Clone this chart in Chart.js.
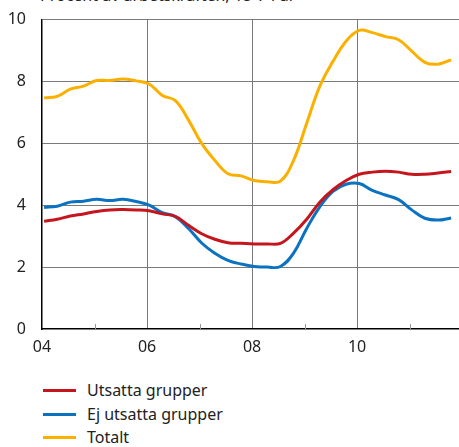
<!DOCTYPE html>
<html>
<head>
<meta charset="utf-8">
<script src="https://cdn.jsdelivr.net/npm/chart.js@4/dist/chart.umd.min.js"></script>
<style>
  body { margin: 0; width: 459px; height: 447px; overflow: hidden; background: #fff;
         font-family: "Noto Sans", sans-serif; color: #222; position: relative; }
  #title { position: absolute; left: 40px; top: -16px; font-size: 16px; white-space: nowrap; }
  #wrap { position: absolute; left: 0; top: -6px; width: 459px; height: 378px; }
  #legend { position: absolute; left: 43px; top: 379px; font-size: 16px; }
  .item { height: 23.5px; line-height: 23.5px; display: flex; align-items: center; }
  .swatch { width: 33px; height: 3px; margin-right: 11px; }
</style>
</head>
<body>
<div id="title">Procent av arbetskraften, 15-74 år</div>
<div id="wrap"><canvas id="chart"></canvas></div>
<div id="legend"></div>
<script>
// kvartal, 2004K1 - 2011K4
const quarters = [
  "2004K1","2004K2","2004K3","2004K4","2005K1","2005K2","2005K3","2005K4",
  "2006K1","2006K2","2006K3","2006K4","2007K1","2007K2","2007K3","2007K4",
  "2008K1","2008K2","2008K3","2008K4","2009K1","2009K2","2009K3","2009K4",
  "2010K1","2010K2","2010K3","2010K4","2011K1","2011K2","2011K3","2011K4"
];
const utsatta = [
  3.48, 3.55, 3.65, 3.72, 3.80, 3.85, 3.86, 3.85,
  3.82, 3.72, 3.64, 3.35, 3.08, 2.90, 2.79, 2.77,
  2.75, 2.75, 2.77, 3.10, 3.55, 4.10, 4.50, 4.80,
  5.00, 5.07, 5.10, 5.07, 5.00, 5.00, 5.04, 5.09
];
const ejUtsatta = [
  3.93, 3.97, 4.10, 4.13, 4.19, 4.15, 4.19, 4.12,
  4.00, 3.76, 3.63, 3.25, 2.78, 2.45, 2.22, 2.10,
  2.02, 2.00, 2.02, 2.45, 3.25, 3.95, 4.45, 4.68,
  4.70, 4.48, 4.33, 4.18, 3.85, 3.58, 3.52, 3.59
];
const totalt = [
  7.47, 7.52, 7.75, 7.85, 8.03, 8.03, 8.08, 8.02,
  7.92, 7.55, 7.38, 6.75, 6.00, 5.45, 5.02, 4.95,
  4.80, 4.76, 4.78, 5.45, 6.65, 7.85, 8.65, 9.30,
  9.65, 9.58, 9.45, 9.35, 8.98, 8.62, 8.56, 8.70
];
const yearTicks = [2004, 2005, 2006, 2007, 2008, 2009, 2010, 2011];
const labelYears = [2004, 2006, 2008, 2010];

const series = [
  { label: "Utsatta grupper", data: utsatta, color: "#c4161c" },
  { label: "Ej utsatta grupper", data: ejUtsatta, color: "#0a72c0" },
  { label: "Totalt", data: totalt, color: "#fbb000" }
];

// kvartal -> decimalår (mitt i kvartalet ungefär)
function toYear(q) {
  return +q.slice(0, 4) + (+q.slice(5) - 1) * 0.25 + 0.04;
}

const minorTicks = {
  id: "minorTicks",
  afterDatasetsDraw(chart) {
    const ctx = chart.ctx, x = chart.scales.x, bottom = chart.chartArea.bottom;
    ctx.save();
    ctx.strokeStyle = "#999";
    ctx.lineWidth = 1;
    yearTicks.filter(y => labelYears.indexOf(y) < 0).forEach(y => {
      const px = Math.round(x.getPixelForValue(y)) + 0.5;
      ctx.beginPath();
      ctx.moveTo(px, bottom);
      ctx.lineTo(px, bottom - 5);
      ctx.stroke();
    });
    ctx.restore();
  }
};

new Chart(document.getElementById("chart"), {
  type: "line",
  data: {
    datasets: series.map(s => ({
      label: s.label,
      data: quarters.map((q, i) => ({ x: toYear(q), y: s.data[i] })),
      borderColor: s.color,
      borderWidth: 3,
      pointRadius: 0,
      tension: 0.4,
      fill: false
    }))
  },
  options: {
    responsive: true,
    maintainAspectRatio: false,
    animation: false,
    layout: { padding: { top: 10, left: 0, right: 0, bottom: 0 } },
    plugins: { legend: { display: false }, tooltip: { enabled: false } },
    scales: {
      x: {
        type: "linear",
        min: 2004,
        max: 2011.94,
        afterBuildTicks: s => { s.ticks = yearTicks.map(v => ({ value: v })); },
        afterFit: s => { s.height = 43; },
        grid: {
          color: c => (labelYears.indexOf(c.tick && c.tick.value) >= 0 && c.tick.value !== 2004) ? "#7a7a7a" : "rgba(0,0,0,0)",
          drawTicks: false
        },
        border: { color: "#000", width: 1.5 },
        ticks: {
          autoSkip: false,
          maxRotation: 0,
          padding: 9,
          color: "#222",
          font: { family: "Noto Sans", size: 16 },
          callback: v => labelYears.indexOf(v) >= 0 ? String(v).slice(2) : ""
        }
      },
      y: {
        min: 0,
        max: 10,
        afterFit: s => { s.width = 42; },
        grid: { color: c => c.tick.value === 0 ? "rgba(0,0,0,0)" : "#7a7a7a", drawTicks: false },
        border: { color: "#000", width: 1.5 },
        ticks: {
          stepSize: 2,
          padding: 16,
          color: "#222",
          font: { family: "Noto Sans", size: 16 }
        }
      }
    }
  },
  plugins: [minorTicks]
});

const legend = document.getElementById("legend");
series.forEach(s => {
  const row = document.createElement("div");
  row.className = "item";
  row.innerHTML = '<span class="swatch" style="background:' + s.color + '"></span>' + s.label;
  legend.appendChild(row);
});
</script>
</body>
</html>
